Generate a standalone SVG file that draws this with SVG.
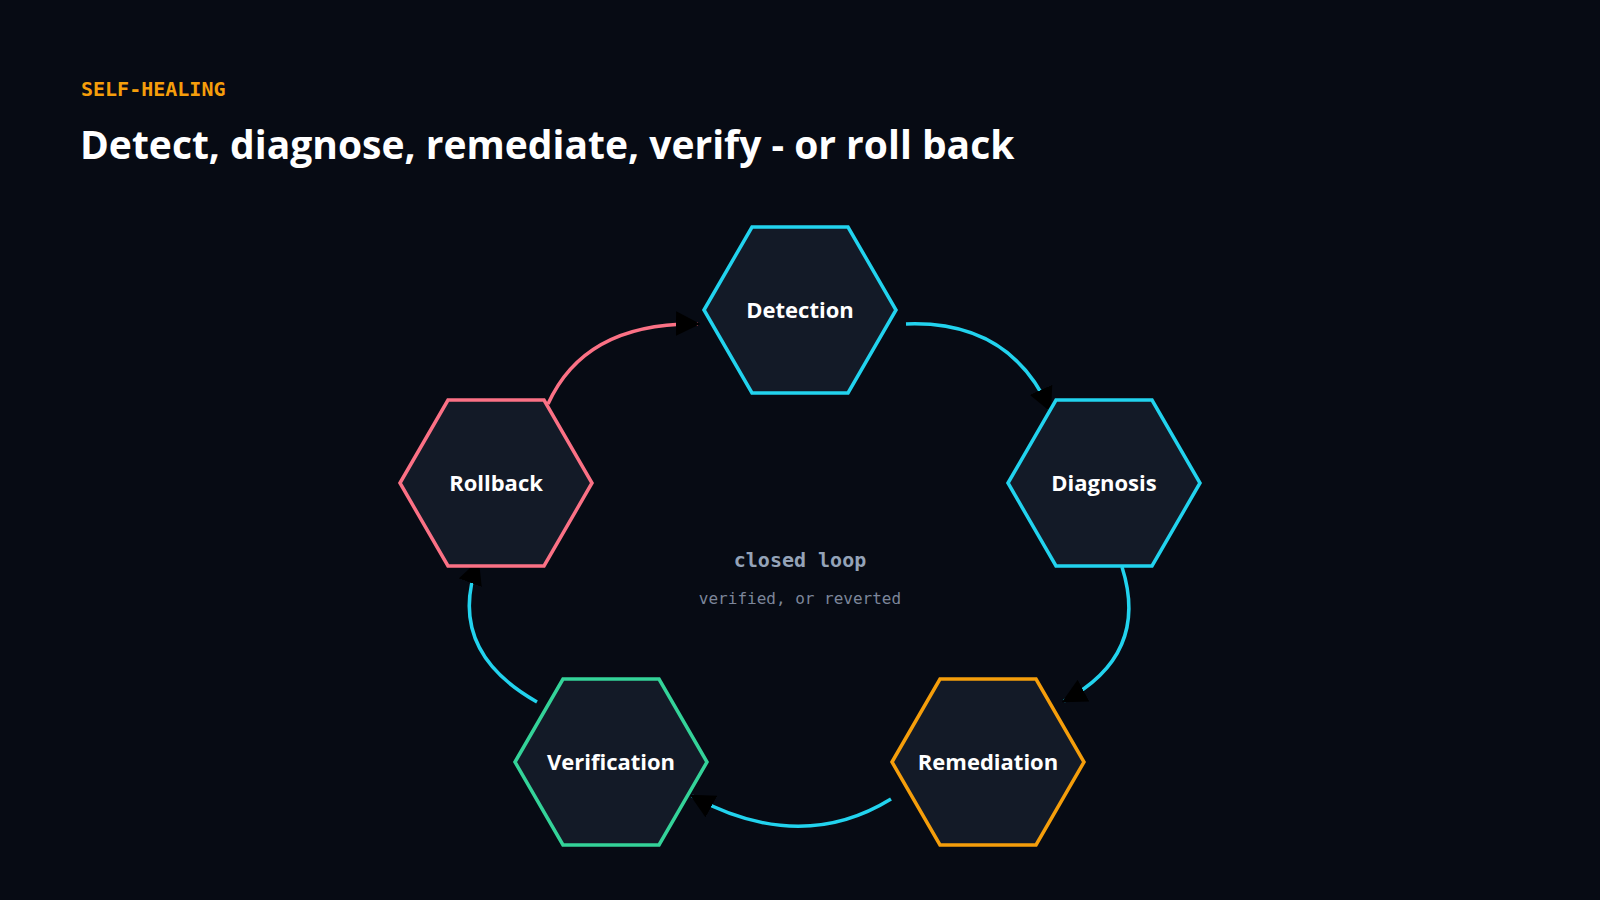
<svg xmlns="http://www.w3.org/2000/svg" width="1600" height="900" viewBox="0 0 1600 900">
<defs>
<marker id="ah" viewBox="0 0 10 10" refX="9" refY="5" markerWidth="7" markerHeight="7" markerUnits="strokeWidth" orient="auto"><path d="M0,0 L10,5 L0,10 z" fill="#000"/></marker>
<style>
.hex{fill:#131a27;stroke-width:3.5}
.lbl{font-family:"Open Sans","Noto Sans",sans-serif;font-weight:700;font-size:22px;fill:#fff;text-anchor:middle}
.e{fill:none;stroke-width:3.5;marker-end:url(#ah)}
</style>
</defs>
<rect width="1600" height="900" fill="#070b14"/>
<text x="81" y="96" font-family="DejaVu Sans Mono,monospace" font-weight="700" font-size="20" fill="#f59e0b">SELF-HEALING</text>
<text x="80" y="159" font-family="Open Sans,Noto Sans,sans-serif" font-weight="700" font-size="39" fill="#fff">Detect, diagnose, remediate, verify - or roll back</text>
<g id="connectors">
<path class="e" stroke="#22d3ee" d="M906,324 Q1010,320 1050,410"/>
<path class="e" stroke="#22d3ee" d="M1122,567 Q1150,655 1064,701"/>
<path class="e" stroke="#22d3ee" d="M891,799 Q800,855 692,796"/>
<path class="e" stroke="#22d3ee" d="M537,702 Q445,650 478,562"/>
<path class="e" stroke="#fb7185" d="M548,404 Q585,322 698,324"/>
</g>
<g id="detection"><polygon class="hex" stroke="#22d3ee" points="704,310 752,227 848,227 896,310 848,393 752,393"/><text class="lbl" x="800" y="318">Detection</text></g>
<g id="diagnosis"><polygon class="hex" stroke="#22d3ee" points="1008,483 1056,400 1152,400 1200,483 1152,566 1056,566"/><text class="lbl" x="1104" y="491">Diagnosis</text></g>
<g id="remediation"><polygon class="hex" stroke="#f59e0b" points="892,762 940,679 1036,679 1084,762 1036,845 940,845"/><text class="lbl" x="988" y="770">Remediation</text></g>
<g id="verification"><polygon class="hex" stroke="#34d399" points="515,762 563,679 659,679 707,762 659,845 563,845"/><text class="lbl" x="611" y="770">Verification</text></g>
<g id="rollback"><polygon class="hex" stroke="#fb7185" points="400,483 448,400 544,400 592,483 544,566 448,566"/><text class="lbl" x="496" y="491">Rollback</text></g>
<g id="center">
<text x="800" y="567" font-family="DejaVu Sans Mono,monospace" font-weight="700" font-size="20" fill="#94a3b8" text-anchor="middle">closed loop</text>
<text x="800" y="604" font-family="DejaVu Sans Mono,monospace" font-size="16" fill="#7c869a" text-anchor="middle">verified, or reverted</text>
</g>
</svg>
